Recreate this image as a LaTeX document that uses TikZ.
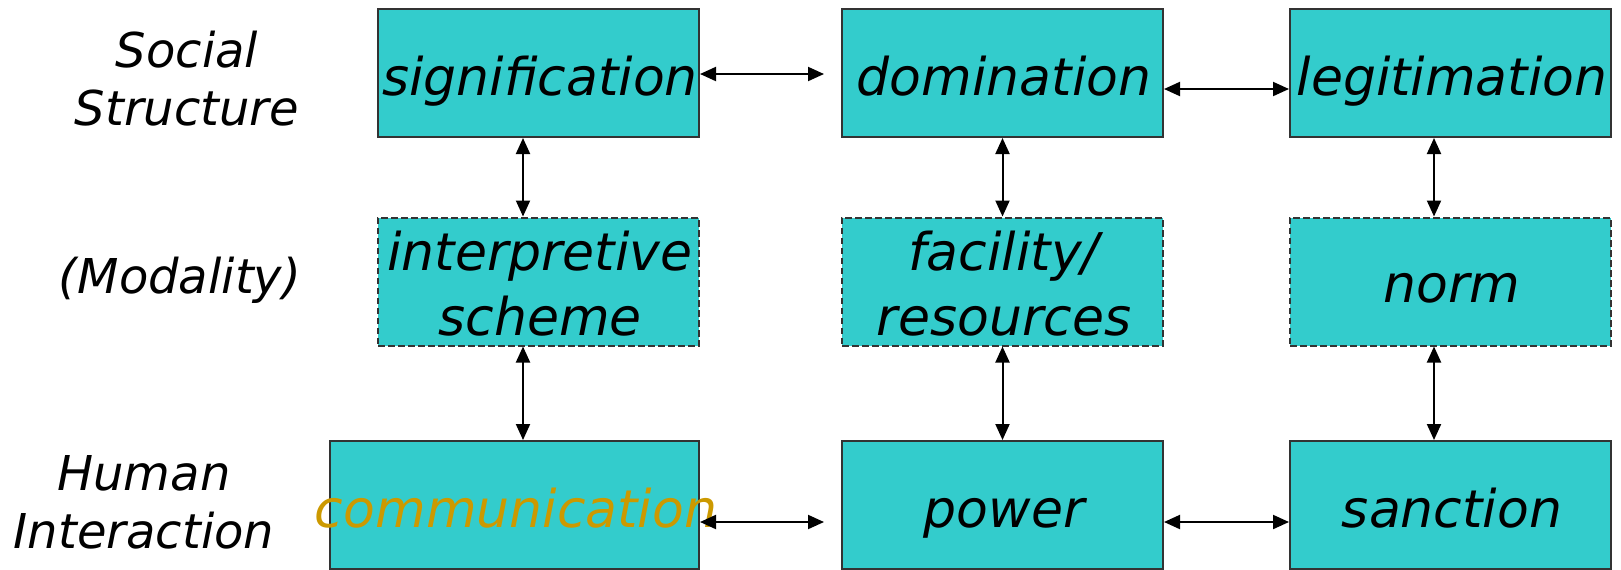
\documentclass[tikz,border=0pt]{standalone}
\usepackage{fontspec}
\setmainfont{DejaVu Sans}
\usetikzlibrary{arrows.meta}
\definecolor{boxfill}{HTML}{33CCCC}
\definecolor{boxline}{HTML}{333333}
\definecolor{goldtext}{HTML}{CC9900}
\begin{document}
\begin{tikzpicture}[x=0.5pt,y=-0.5pt,
  box/.style={draw=boxline, line width=1pt, fill=boxfill, minimum width=160.5pt, minimum height=64pt, inner sep=0pt},
  widebox/.style={box, minimum width=184.5pt},
  modbox/.style={box, dash pattern=on 3.3pt off 1.7pt},
  boxtext/.style={anchor=base, inner sep=0pt, font=\fontsize{26pt}{32.5pt}\selectfont\itshape},
  sidetext/.style={anchor=base, inner sep=0pt, font=\fontsize{24pt}{29pt}\selectfont\itshape},
  link/.style={line width=1pt, {Triangle[length=8pt,width=7pt]}-{Triangle[length=8pt,width=7pt]}}]
\useasboundingbox (0,0) rectangle (1621,569);

% boxes
\node[box] (sig) at (538.5,73) {};
\node[box] (dom) at (1002.5,73) {};
\node[box] (leg) at (1450.5,73) {};
\node[modbox] (interp) at (538.5,281.5) {};
\node[modbox] (fac) at (1002.5,281.5) {};
\node[modbox] (norm) at (1450.5,281.5) {};
\node[widebox] (comm) at (514.5,505) {};
\node[box] (power) at (1002.5,505) {};
\node[box] (sanc) at (1450.5,505) {};

% box texts
\node[boxtext] (sigt) at (540,95) {signification};
\node[boxtext] (domt) at (1004,95) {domination};
\node[boxtext] (legt) at (1452,95) {legitimation};
\node[boxtext] (interpt) at (540,270) {\begin{tabular}[t]{@{}c@{}}interpretive\\scheme\end{tabular}};
\node[boxtext] (fact) at (1004,270) {\begin{tabular}[t]{@{}c@{}}facility/\\resources\end{tabular}};
\node[boxtext] (normt) at (1452,302) {norm};
\node[boxtext, text=goldtext] (commt) at (516,527) {communication};
\node[boxtext] (powert) at (1004,527) {power};
\node[boxtext] (sanct) at (1452,527) {sanction};

% side labels
\node[sidetext] (ss) at (187,67) {\begin{tabular}[t]{@{}c@{}}Social\\Structure\end{tabular}};
\node[sidetext] (mod) at (180,293) {(Modality)};
\node[sidetext] (hi) at (144,490) {\begin{tabular}[t]{@{}c@{}}Human\\Interaction\end{tabular}};

% connectors
\draw[link, shorten >=8.5pt] ([yshift=-0.5pt]sig.east) -- ([yshift=-0.5pt]dom.west);
\draw[link] ([yshift=-8pt]dom.east) -- ([yshift=-8pt]leg.west);
\draw[link, shorten >=8.5pt] ([yshift=-8.5pt]comm.east) -- ([yshift=-8.5pt]power.west);
\draw[link] ([yshift=-8.5pt]power.east) -- ([yshift=-8.5pt]sanc.west);

\draw[link] ([xshift=-7.75pt]sig.south) -- ([xshift=-7.75pt]interp.north);
\draw[link] ([xshift=-7.75pt]interp.south) -- ([xshift=-7.75pt]interp.south |- comm.north);
\draw[link] (dom.south) -- (fac.north);
\draw[link] (fac.south) -- (power.north);
\draw[link] ([xshift=-8.25pt]leg.south) -- ([xshift=-8.25pt]norm.north);
\draw[link] ([xshift=-8.25pt]norm.south) -- ([xshift=-8.25pt]sanc.north);
\end{tikzpicture}
\end{document}
